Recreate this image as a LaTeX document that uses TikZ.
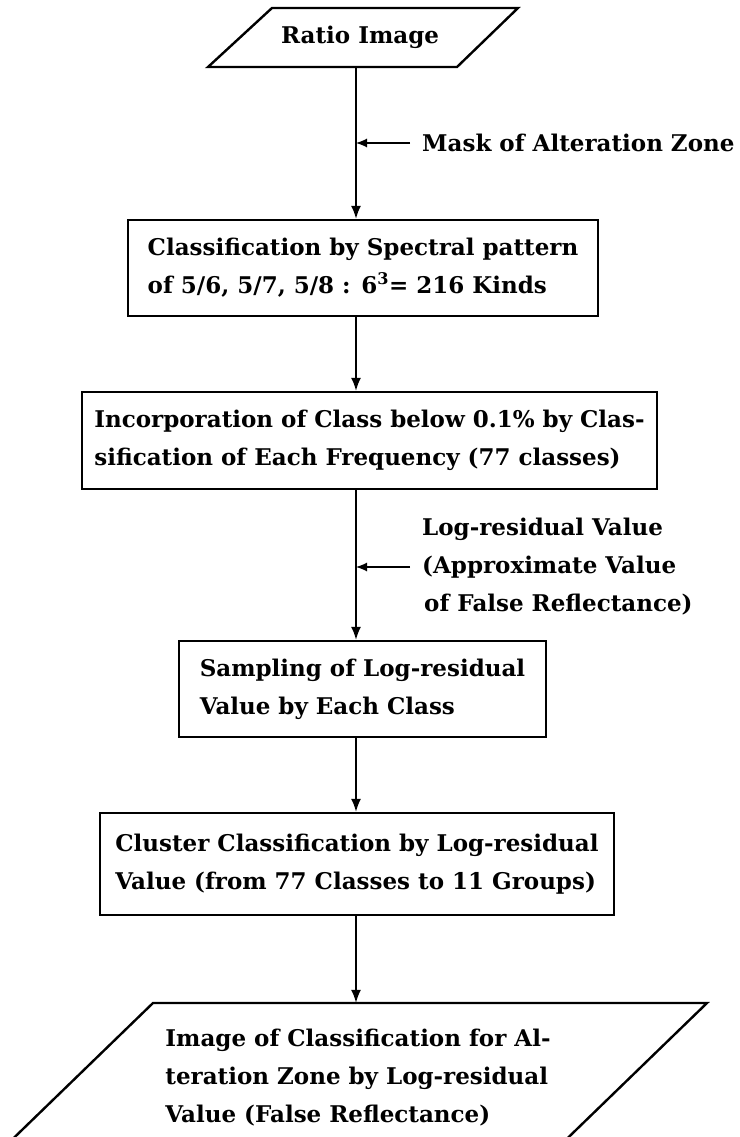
\documentclass[tikz,border=0pt]{standalone}
\usepackage{fontspec}
\setmainfont{DejaVu Serif}
\usetikzlibrary{positioning}
\usetikzlibrary{arrows.meta}

\tikzset{
	procbox/.style={draw, line width=2.4pt, rectangle, align=left, inner sep=0pt},
	iotext/.style={align=left, inner sep=0pt},
	note/.style={align=left, anchor=west, inner xsep=12pt, inner ysep=0pt},
	flow/.style={line width=1.6pt, -{Latex[length=13pt,width=10pt]}},
	side/.style={line width=1.2pt, -{Latex[length=11pt,width=9pt]}},
}

\begin{document}
\begin{tikzpicture}[x=1pt,y=-1pt,font=\fontsize{23}{38}\selectfont\bfseries]
	\useasboundingbox (0,0) rectangle (739,1137);
	\coordinate (spine) at (356,0);
	
	% RATIO IMAGE
	\draw[line width=2.4pt] (272,8) -- (518,8) -- (457,67) -- (208,67) -- cycle;
	\node[iotext, minimum height=59pt] (ratio) at (360,37.5) {Ratio Image};
	
	\node[note] (mask) at (410,143) {Mask of Alteration Zone};
	
	% SPECTRAL PATTERN
	\node[procbox, minimum width=470pt, minimum height=96pt] (spectral) at (363,268)
		{Classification by Spectral pattern\\of 5/6, 5/7, 5/8 : 6\textsuperscript{3}= 216 Kinds};
	
	% INCORPORATION
	\node[procbox, minimum width=575pt, minimum height=97pt] (incorp) at (369.5,440.5)
		{Incorporation of Class below 0.1\% by Clas-\\sification of Each Frequency (77 classes)};
	
	\node[note] (logres) at (410,567) {Log-residual Value\\(Approximate Value\\\hspace{2pt}of False Reflectance)};
	
	% SAMPLING
	\node[procbox, minimum width=367pt, minimum height=96pt] (sampling) at (362.5,689)
		{Sampling of Log-residual\\Value by Each Class};
	
	% CLUSTER
	\node[procbox, minimum width=514pt, minimum height=102pt] (cluster) at (357,864)
		{Cluster Classification by Log-residual\\Value (from 77 Classes to 11 Groups)};
	
	% OUTPUT IMAGE
	\draw[line width=2.4pt] (153,1003) -- (707,1003) -- (545,1160) -- (-9,1160) -- cycle;
	\node[iotext, minimum height=150pt] (outimg) at (358,1078)
		{Image of Classification for Al-\\teration Zone by Log-residual\\Value (False Reflectance)};
	
	\draw[flow] (ratio.south -| spine) -- (spectral.north -| spine);
	\draw[flow] (spectral.south -| spine) -- (incorp.north -| spine);
	\draw[flow] (incorp.south -| spine) -- (sampling.north -| spine);
	\draw[flow] (sampling.south -| spine) -- (cluster.north -| spine);
	\draw[flow] (cluster.south -| spine) -- (outimg.north -| spine);
	\draw[side] (mask.west) -- (mask.west -| spine);
	\draw[side] (logres.west) -- (logres.west -| spine);
\end{tikzpicture}
\end{document}
